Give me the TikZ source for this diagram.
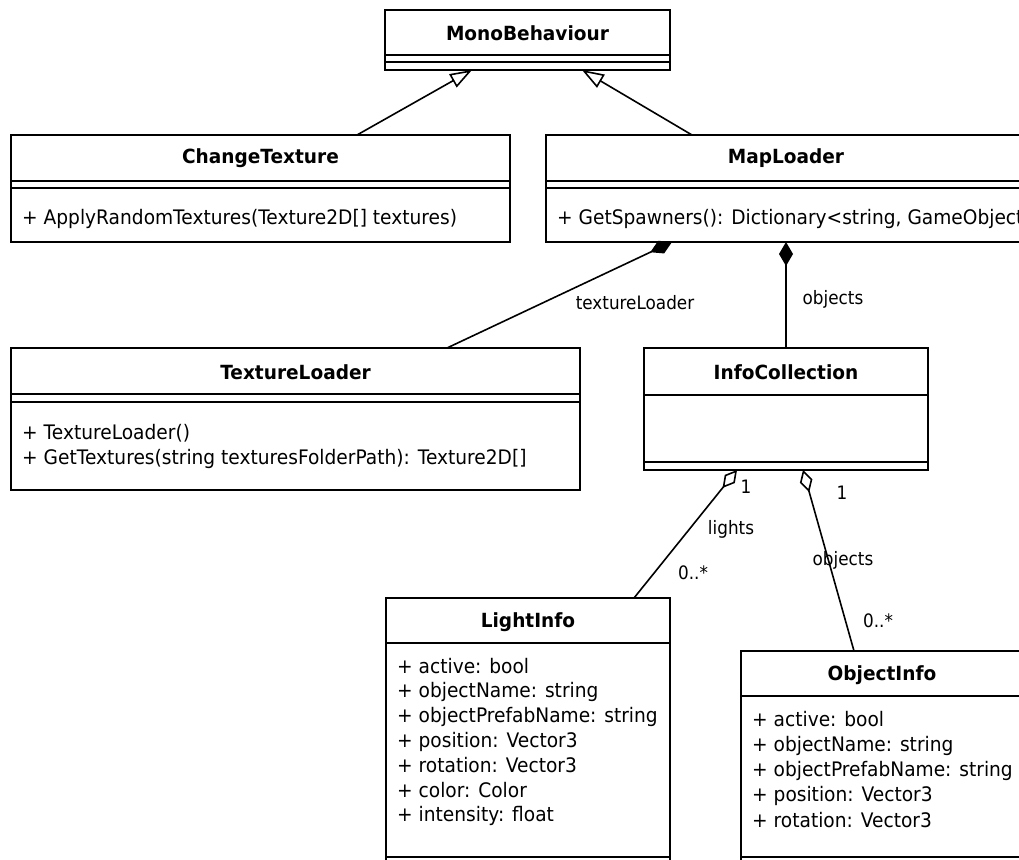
\documentclass[tikz,border=0pt]{standalone}
\usepackage{fontspec}
\setmainfont{DejaVu Sans}[FakeStretch=0.93, BoldFeatures={FakeStretch=0.95}]
\newfontfamily\rolefont{DejaVu Sans}[FakeStretch=0.91]
\usetikzlibrary{arrows.meta}
\begin{document}
\begin{tikzpicture}[x=1pt,y=-1pt,
  box/.style={draw, line width=1.7pt, anchor=north west, inner sep=0pt, outer sep=0pt},
  divider/.style={line width=1.7pt},
  classname/.style={font=\bfseries\fontsize{19.5}{24}\selectfont, inner sep=0pt},
  member/.style={font=\fontsize{20}{25}\selectfont, inner sep=0pt, anchor=west,
    text height=14.5pt, text depth=4.5pt},
  role/.style={font=\rolefont\fontsize{18.5}{22}\selectfont, inner sep=0pt},
  link/.style={line width=1.6pt},
  inherit/.style={link, -{Triangle[open, length=22pt, width=15pt]}},
  compose/.style={link, {Diamond[length=24pt, width=14pt]}-},
  aggregate/.style={link, {Diamond[open, length=23pt, width=13pt]}-}
]
\fill[white] (0,0) rectangle (1019,859);
\clip (0,0) rectangle (1019,859);

% class frames
\node[box, minimum width=285pt, minimum height=60pt]  (mono)  at (385,10)  {};
\node[box, minimum width=499pt, minimum height=107pt] (change) at (11,135) {};
\node[box, minimum width=480pt, minimum height=107pt] (mapl)  at (546,135) {};
\node[box, minimum width=569pt, minimum height=142pt] (texl)  at (11,348)  {};
\node[box, minimum width=284pt, minimum height=122pt] (info)  at (644,348) {};
\node[box, minimum width=284pt, minimum height=300pt] (light) at (386,598) {};
\node[box, minimum width=282pt, minimum height=250pt] (obj)   at (741,651) {};

% compartment dividers
\foreach \n/\d in {mono/45, mono/52, change/46, change/53, mapl/46, mapl/53,
                   texl/46, texl/54, info/47, info/114, light/45, light/259,
                   obj/45, obj/206}
  \draw[divider] ([yshift=-\d pt]\n.north west) -- ([yshift=-\d pt]\n.north east);

% class names
\node[classname] (mono-t)   at ([yshift=-23pt]mono.north)   {MonoBehaviour};
\node[classname] (change-t) at ([yshift=-23pt]change.north) {ChangeTexture};
\node[classname] (mapl-t)   at ([yshift=-23pt]mapl.north)   {MapLoader};
\node[classname] (texl-t)   at ([yshift=-24pt]texl.north)   {TextureLoader};
\node[classname] (info-t)   at ([yshift=-24pt]info.north)   {InfoCollection};
\node[classname] (light-t)  at ([yshift=-24pt]light.north)  {LightInfo};
\node[classname] (obj-t)    at ([yshift=-24pt]obj.north)    {ObjectInfo};

% members
\node[member] (change-m1) at (22,219)  {+ ApplyRandomTextures(Texture2D[] textures)};
\node[member] (mapl-m1)   at (557,219) {+ GetSpawners(): Dictionary<string, GameObject>};
\node[member] (texl-m1)   at (22,434)  {+ TextureLoader()};
\node[member] (texl-m2)   at (22,459)  {+ GetTextures(string texturesFolderPath): Texture2D[]};

\foreach \t [count=\i] in {+ active: bool, + objectName: string,
    + objectPrefabName: string, + position: Vector3, + rotation: Vector3,
    + color: Color, + intensity: float}
  \node[member] (light-m\i) at (397,{668+24.8*(\i-1)}) {\t};

\foreach \t [count=\i] in {+ active: bool, + objectName: string,
    + objectPrefabName: string, + position: Vector3, + rotation: Vector3}
  \node[member] (obj-m\i) at (752,{721+25.3*(\i-1)}) {\t};

% relations
\draw[inherit] ([xshift=96.5pt]change.north) -- ([xshift=-55.5pt]mono.south);
\draw[inherit] ([xshift=-94pt]mapl.north) -- ([xshift=54.5pt]mono.south);
\draw[compose] ([xshift=-114pt]mapl.south) -- ([xshift=151.5pt]texl.north);
\draw[compose] (mapl.south) -- (info.north);
\draw[aggregate] ([xshift=-49pt]info.south) -- ([xshift=106pt]light.north);
\draw[aggregate] ([xshift=17pt]info.south) -- ([xshift=-28pt]obj.north);

% role names and multiplicities
\node[role] (r-tex)   at (635,303) {textureLoader};
\node[role] (r-obj1)  at (833,299) {objects};
\node[role] (m-l1)    at (746,487) {1};
\node[role] (r-light) at (731,529) {lights};
\node[role] (m-l2)    at (693,573) {0..*};
\node[role] (m-o1)    at (842,493) {1};
\node[role] (r-obj2)  at (843,560) {objects};
\node[role] (m-o2)    at (878,621) {0..*};
\end{tikzpicture}
\end{document}
